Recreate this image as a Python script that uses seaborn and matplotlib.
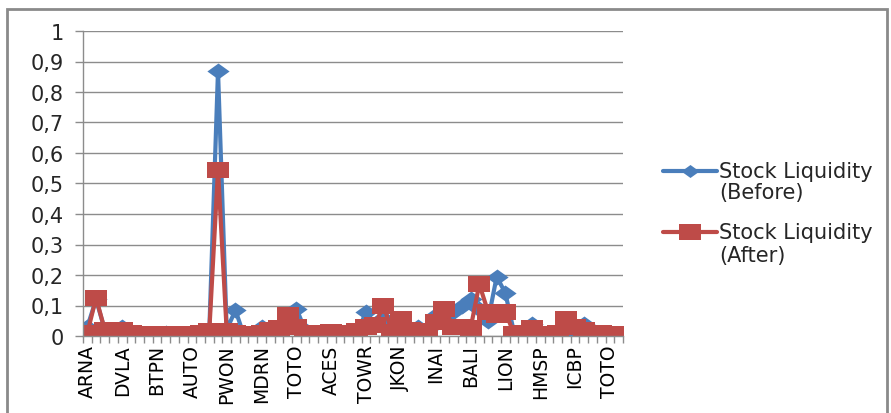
import numpy as np
import pandas as pd
import seaborn as sns
import matplotlib
matplotlib.use("Agg")
import matplotlib.pyplot as plt
from matplotlib.path import Path
from matplotlib.lines import Line2D
from matplotlib.patches import Rectangle
from matplotlib.ticker import FuncFormatter, MultipleLocator

# Stock codes shown on the axis (every fourth company)
tick_labels = ["ARNA", "DVLA", "BTPN", "AUTO", "PWON", "MDRN", "TOTO", "ACES",
               "TOWR", "JKON", "INAI", "BALI", "LION", "HMSP", "ICBP", "TOTO"]

liquidity_before = [0.03, 0.12, 0.02, 0.02, 0.03, 0.01, 0.005, 0.005, 0.005, 0.01,
                    0.005, 0.005, 0.005, 0.01, 0.015, 0.87, 0.02, 0.085, 0.0, 0.005,
                    0.03, 0.01, 0.02, 0.04, 0.09, 0.02, 0.005, 0.01, 0.01, 0.005,
                    0.005, 0.01, 0.08, 0.04, 0.06, 0.0, 0.03, 0.005, 0.03, 0.02,
                    0.07, 0.06, 0.08, 0.10, 0.12, 0.09, 0.05, 0.195, 0.14, 0.01,
                    0.01, 0.04, 0.01, 0.005, 0.005, 0.01, 0.01, 0.04, 0.01, 0.005,
                    0.01, 0.005]

liquidity_after = [0.01, 0.125, 0.02, 0.02, 0.02, 0.01, 0.005, 0.005, 0.008, 0.008,
                   0.008, 0.005, 0.005, 0.01, 0.015, 0.545, 0.015, 0.01, 0.005, 0.005,
                   0.01, 0.02, 0.025, 0.07, 0.03, 0.01, 0.005, 0.01, 0.012, 0.008,
                   0.01, 0.015, 0.03, 0.035, 0.10, 0.013, 0.055, 0.02, 0.015, 0.015,
                   0.045, 0.09, 0.03, 0.03, 0.025, 0.17, 0.08, 0.07, 0.08, 0.005,
                   0.01, 0.025, 0.005, 0.005, 0.01, 0.055, 0.03, 0.02, 0.01, 0.01,
                   0.005, 0.005]

series_names = ["Stock Liquidity\n(Before)", "Stock Liquidity\n(After)"]
colors = ["#4A7EBB", "#BE4B48"]

n = len(liquidity_before)
df = pd.DataFrame({
    "idx": np.concatenate([np.arange(n), np.arange(n)]),
    "value": liquidity_before + liquidity_after,
    "series": [series_names[0]] * n + [series_names[1]] * n,
})

# Slightly flattened diamond and square markers
diamond = Path([(-1, 0), (0, -0.72), (1, 0), (0, 0.72), (-1, 0)],
               [Path.MOVETO, Path.LINETO, Path.LINETO, Path.LINETO, Path.CLOSEPOLY])
square = Path([(-1, -0.72), (1, -0.72), (1, 0.72), (-1, 0.72), (-1, -0.72)],
              [Path.MOVETO, Path.LINETO, Path.LINETO, Path.LINETO, Path.CLOSEPOLY])
markers = [diamond, square]

sns.set_theme(style="white")
plt.rcParams["font.family"] = ["DejaVu Sans"]

fig = plt.figure(figsize=(8.91, 4.14), dpi=100)
ax = fig.add_axes([83 / 891, 77 / 414, 540 / 891, 305 / 414])

for name, col, mk in zip(series_names, colors, markers):
    sub = df[df["series"] == name]
    sns.lineplot(data=sub, x="idx", y="value", ax=ax, color=col, linewidth=3,
                 marker=mk, markersize=16, markeredgewidth=0,
                 markerfacecolor=col, legend=False, sort=False)

ax.set_xlim(-0.5, n - 0.5)
ax.set_ylim(0, 1)
ax.set_xlabel("")
ax.set_ylabel("")

grid_col = "#8C8C8C"
ax.yaxis.set_major_locator(MultipleLocator(0.1))
ax.yaxis.set_major_formatter(FuncFormatter(
    lambda v, p: "0" if abs(v) < 1e-9 else ("1" if abs(v - 1) < 1e-9 else f"{v:.1f}".replace(".", ","))))
ax.grid(axis="y", color=grid_col, linewidth=1)
ax.set_axisbelow(True)

ax.set_xticks(np.arange(0, n, 4))
ax.set_xticklabels(tick_labels, rotation=90)
ax.set_xticks(np.arange(-0.5, n, 1), minor=True)
ax.tick_params(axis="x", which="major", length=0, pad=6, labelsize=13.5, colors="black")
ax.tick_params(axis="x", which="minor", length=5, width=1, color=grid_col, bottom=True)
ax.tick_params(axis="y", which="major", length=6, width=1, color=grid_col, left=True,
               labelsize=15, pad=8)

for s in ["top", "right"]:
    ax.spines[s].set_visible(False)
for s in ["left", "bottom"]:
    ax.spines[s].set_color(grid_col)
    ax.spines[s].set_linewidth(1)

# Legend on the right
leg_rows = [(172 / 414, 193 / 414), (233 / 414, 256 / 414)]
for (y1, y2), name, col, mk in zip(leg_rows, series_names, colors, markers):
    first, second = name.split("\n")
    yy = 1 - y1
    fig.add_artist(Line2D([663 / 891, 717 / 891], [yy, yy], transform=fig.transFigure,
                          color=col, linewidth=3))
    fig.add_artist(Line2D([690 / 891], [yy], transform=fig.transFigure, color=col,
                          marker=mk, markersize=16 if mk is square else 13,
                          markeredgewidth=0, linestyle="none"))
    fig.text(719 / 891, yy, first, fontsize=15, va="center", ha="left", color="#262626")
    fig.text(719 / 891, 1 - y2, second, fontsize=15, va="center", ha="left", color="#262626")

# Chart frame
fig.add_artist(Rectangle((7 / 891, -0.02), 880 / 891, 1 - 10 / 414 + 0.02,
                         transform=fig.transFigure, fill=False,
                         edgecolor="#8A8A8A", linewidth=2))

fig.savefig("out.png", dpi=100, facecolor="white")
